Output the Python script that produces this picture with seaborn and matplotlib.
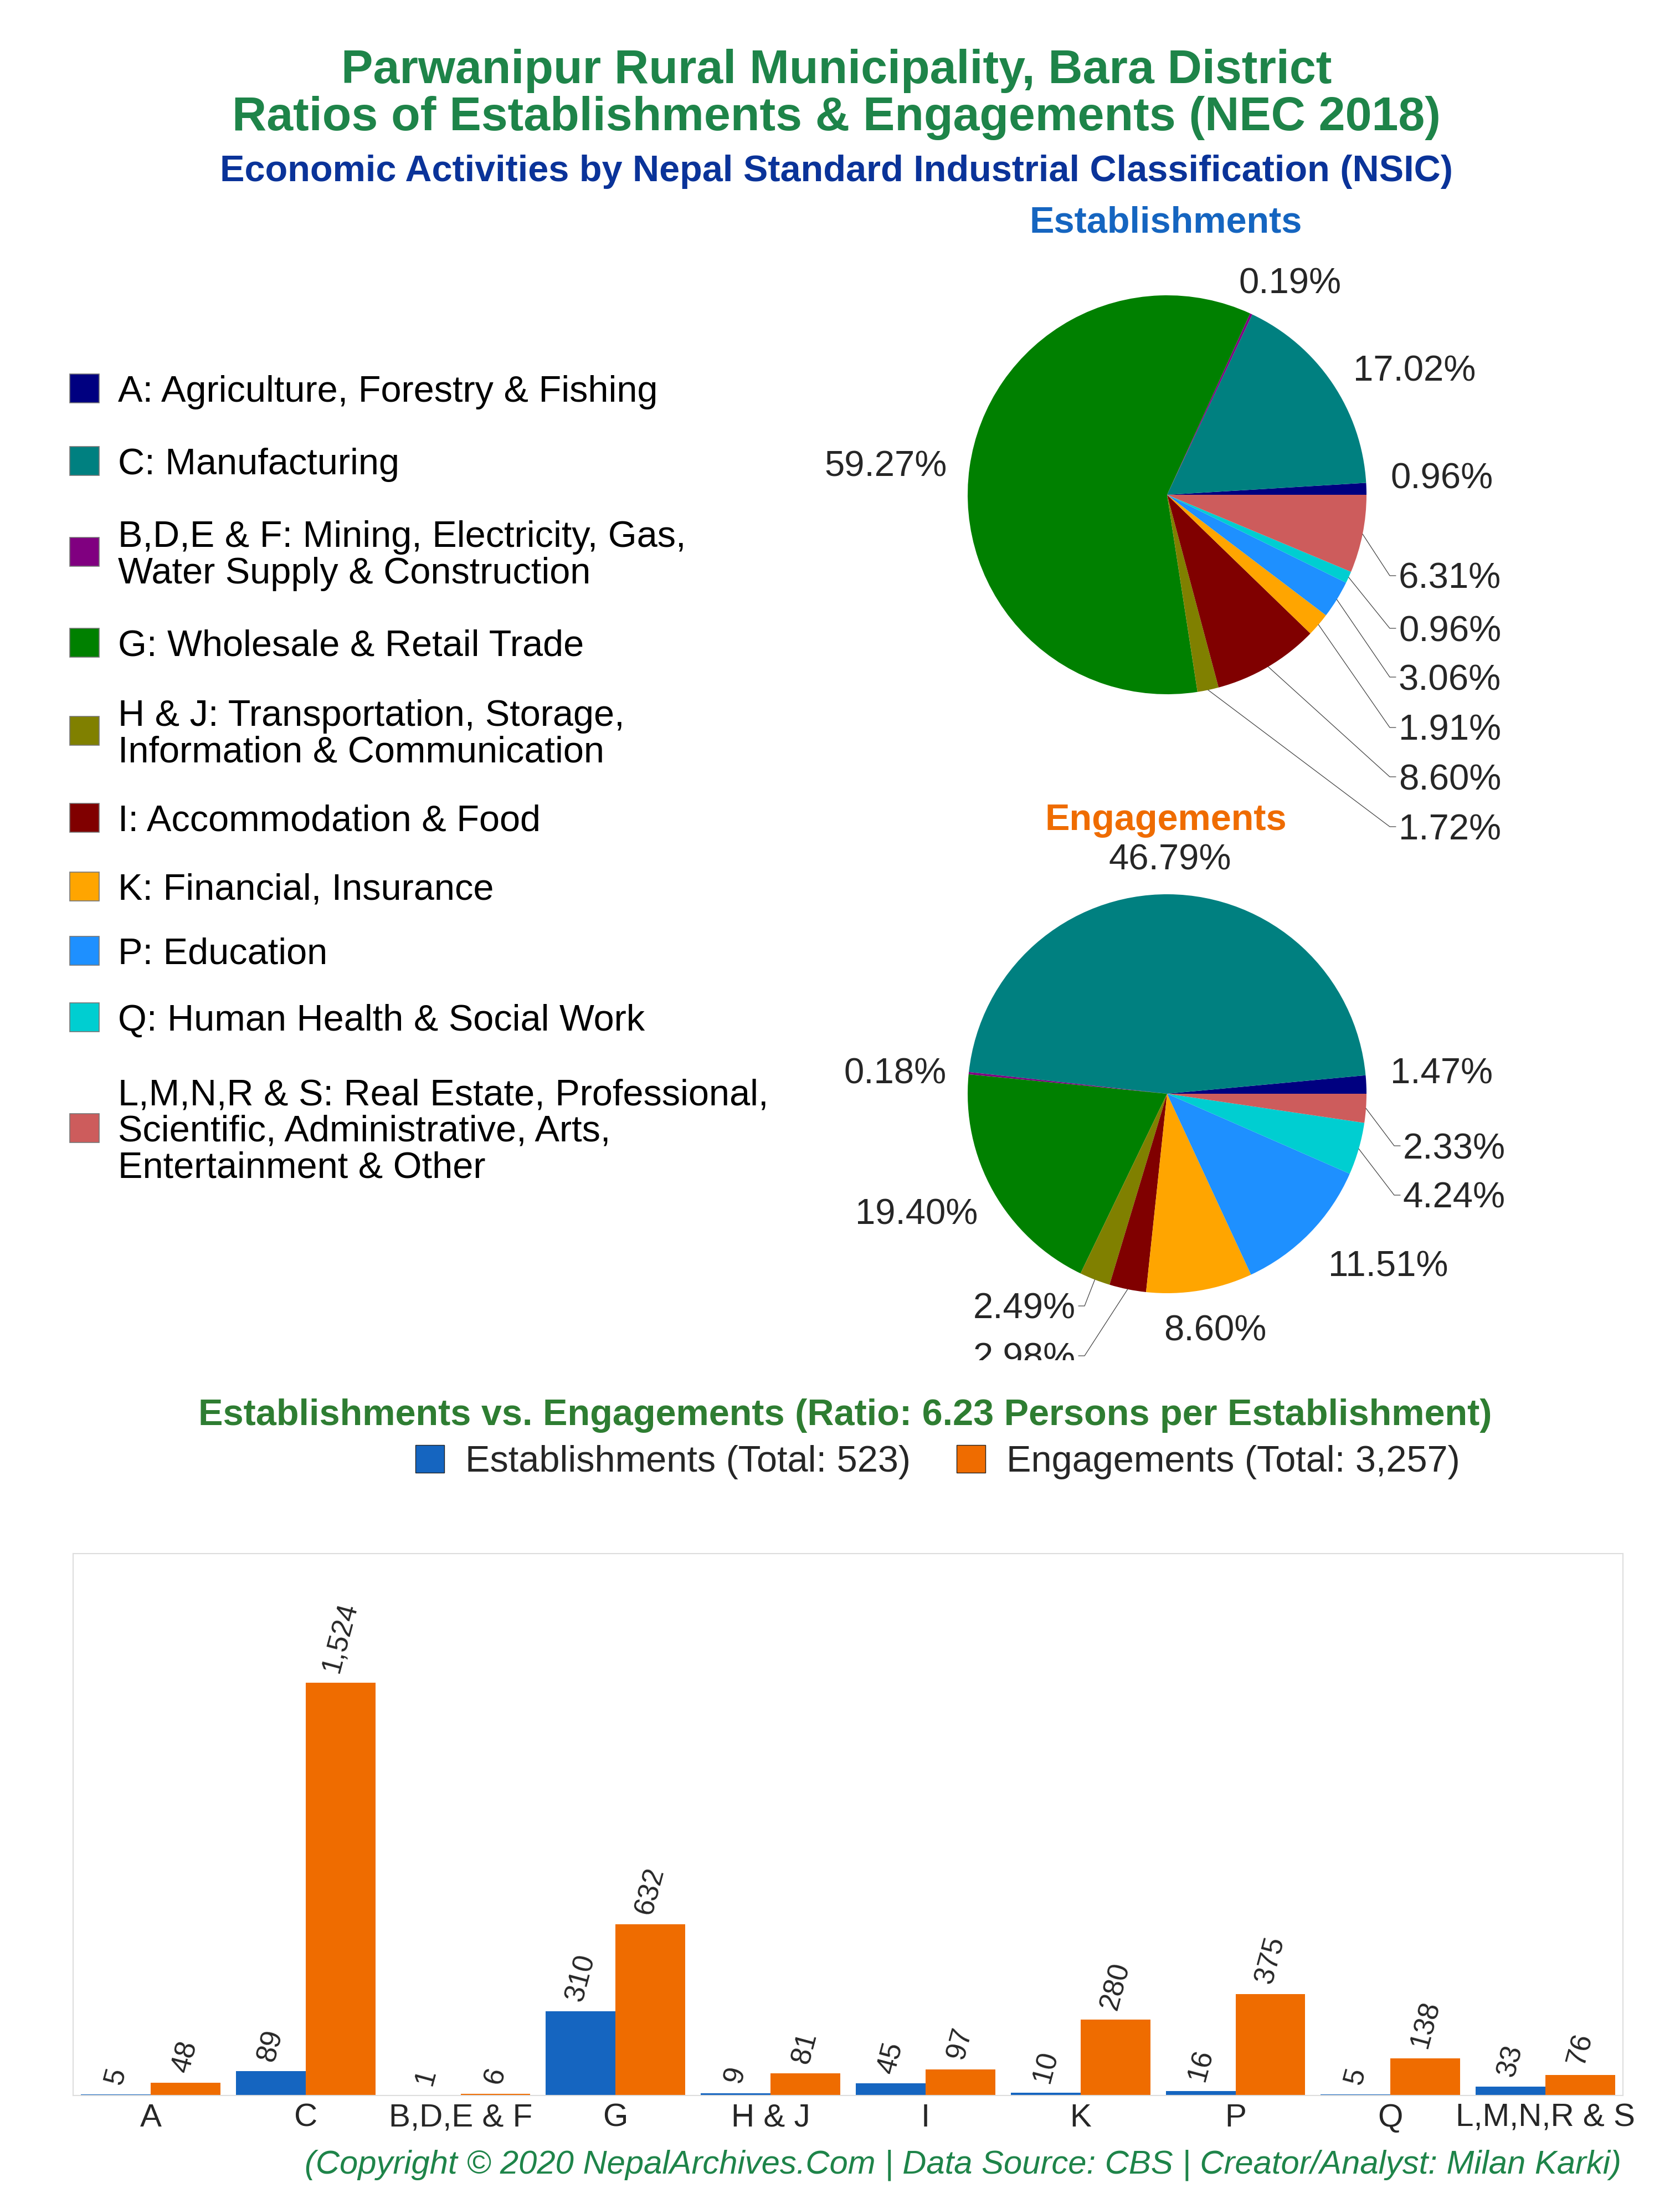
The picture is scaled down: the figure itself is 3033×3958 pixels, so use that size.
import matplotlib.pyplot as plt
import numpy as np
import pandas as pd
import seaborn as sns
from matplotlib.patches import Patch, Rectangle

# Data (NEC 2018, Parwanipur Rural Municipality)
categories = ["A", "C", "B,D,E & F", "G", "H & J", "I", "K", "P", "Q", "L,M,N,R & S"]
establishments = [5, 89, 1, 310, 9, 45, 10, 16, 5, 33]
engagements = [48, 1524, 6, 632, 81, 97, 280, 375, 138, 76]
legend_labels = [
    "A: Agriculture, Forestry & Fishing",
    "C: Manufacturing",
    "B,D,E & F: Mining, Electricity, Gas,\nWater Supply & Construction",
    "G: Wholesale & Retail Trade",
    "H & J: Transportation, Storage,\nInformation & Communication",
    "I: Accommodation & Food",
    "K: Financial, Insurance",
    "P: Education",
    "Q: Human Health & Social Work",
    "L,M,N,R & S: Real Estate, Professional,\nScientific, Administrative, Arts,\nEntertainment & Other",
]
slice_colors = ["#000080", "#008080", "#800080", "#008000", "#808000",
                "#800000", "#FFA500", "#1E90FF", "#00CED1", "#CD5C5C"]
est_color = "#1565C0"
eng_color = "#EF6C00"

W, H = 3033, 3958
R = 360  # pie radius in pixels

sns.set_style("white")
plt.rcParams["font.family"] = ["Liberation Sans", "DejaVu Sans"]

fig = plt.figure(figsize=(W / 100, H / 100), dpi=100)


def fx(x):
    return x / W


def fy(y):
    return 1 - y / H


def put(x, y, s, size, color="black", weight="normal", ha="center", style="normal"):
    fig.text(fx(x), fy(y), s, fontsize=size, color=color, fontweight=weight,
             ha=ha, va="baseline", fontstyle=style)


# titles
put(1510, 150, "Parwanipur Rural Municipality, Bara District", 62, "#1E8449", "bold")
put(1510, 235, "Ratios of Establishments & Engagements (NEC 2018)", 62, "#1E8449", "bold")
put(1510, 327, "Economic Activities by Nepal Standard Industrial Classification (NSIC)", 48, "#0A3399", "bold")
put(2105, 419, "Establishments", 48, est_color, "bold")
put(2105, 1498, "Engagements", 48, eng_color, "bold")

# left legend for the pies
marker_centers = [701, 832, 996, 1160, 1319, 1476, 1600, 1716, 1836, 2036]
for lab, col, mc in zip(legend_labels, slice_colors, marker_centers):
    fig.add_artist(Rectangle((fx(126), fy(mc + 26)), 53 / W, 52 / H, transform=fig.transFigure,
                             facecolor=col, edgecolor="#777777", linewidth=1.2))
    lines = lab.split("\n")
    for k, line in enumerate(lines):
        cap_c = mc + (k - (len(lines) - 1) / 2) * 66
        put(213, cap_c + 24, line, 48, ha="left")

# label layout: (x px, baseline px, ha, leader)
est_layout = [
    (2603, 882, "center", False), (2554, 687, "center", False), (2329, 530, "center", False),
    (1599, 859, "center", False), (2525, 1515, "left", True), (2525, 1425, "left", True),
    (2525, 1336, "left", True), (2525, 1245, "left", True), (2525, 1157, "left", True),
    (2525, 1062, "left", True),
]
eng_layout = [
    (2603, 1955, "center", False), (2112, 1570, "center", False), (1616, 1955, "center", False),
    (1655, 2210, "center", False), (1942, 2380, "right", True), (1942, 2470, "right", True),
    (2194, 2419, "center", False), (2506, 2304, "center", False), (2533, 2180, "left", True),
    (2533, 2091, "left", True),
]


def draw_pie(values, cx, cy, box, layout):
    x0, y0, x1, y1 = box
    ax = fig.add_axes([fx(x0), fy(y1), (x1 - x0) / W, (y1 - y0) / H])
    wedges, _ = ax.pie(values, colors=slice_colors, startangle=0, counterclock=True,
                       radius=1, wedgeprops=dict(linewidth=0))
    ax.set_aspect("auto")
    ax.set_xlim((x0 - cx) / R, (x1 - cx) / R)
    ax.set_ylim((cy - y1) / R, (cy - y0) / R)
    ax.axis("off")
    total = sum(values)
    for i, (lx, ly, ha, leader) in enumerate(layout):
        tx, ty = (lx - cx) / R, (cy - ly) / R
        ax.text(tx, ty, f"{values[i] / total * 100:.2f}%", fontsize=47, ha=ha,
                va="baseline", clip_on=True)
        if leader:
            w = wedges[i]
            ang = np.deg2rad((w.theta1 + w.theta2) / 2)
            yc = (cy - (ly - 23)) / R
            side = 1 if ha == "left" else -1
            ax.plot([np.cos(ang), tx - side * 16 / R, tx - side * 5 / R],
                    [np.sin(ang), yc, yc], color="#444444", lw=0.9, clip_on=False)
    return ax


draw_pie(establishments, 2107, 893, (1450, 430, 3033, 1545), est_layout)
draw_pie(engagements, 2107, 1974, (1450, 1510, 3033, 2455), eng_layout)

# bar chart
tot_est = sum(establishments)
tot_eng = sum(engagements)
est_label = f"Establishments (Total: {tot_est:,})"
eng_label = f"Engagements (Total: {tot_eng:,})"
put(1526, 2572, f"Establishments vs. Engagements (Ratio: {tot_eng / tot_est:.2f} Persons per Establishment)",
    48, "#2E7D32", "bold")

df_bar = pd.DataFrame({
    "category": categories * 2,
    "series": [est_label] * len(categories) + [eng_label] * len(categories),
    "value": establishments + engagements,
})

axb = fig.add_axes([fx(132), fy(3782), (2930 - 132) / W, (3782 - 2804) / H])
sns.barplot(data=df_bar, x="category", y="value", hue="series", order=categories,
            palette=[est_color, eng_color], width=0.9, saturation=1, linewidth=0,
            ax=axb, legend=False)
axb.set_ylim(0, 2000)
axb.set_xlim(-0.5, len(categories) - 0.5)
for cont in axb.containers:
    axb.bar_label(cont, labels=[f"{int(v):,}" for v in cont.datavalues], padding=9,
                  rotation=75, fontsize=37)
axb.set_xlabel("")
axb.set_ylabel("")
axb.set_yticks([])
axb.tick_params(axis="x", length=0, pad=10, labelsize=42)
for s in axb.spines.values():
    s.set_color("#DDDDDD")
    s.set_linewidth(1.5)

handles = [Patch(facecolor=est_color, edgecolor="#222222", linewidth=1),
           Patch(facecolor=eng_color, edgecolor="#222222", linewidth=1)]
fig.legend(handles, [est_label, eng_label], loc="center left",
           bbox_to_anchor=(fx(750), fy(2639)), ncol=2, frameon=False, fontsize=48,
           handlelength=0.78, handleheight=0.78, handletextpad=0.57, columnspacing=1.25,
           borderpad=0, borderaxespad=0)

put(2927, 3922, "(Copyright © 2020 NepalArchives.Com | Data Source: CBS | Creator/Analyst: Milan Karki)",
    43, "#1E8449", ha="right", style="italic")

fig.savefig("out.png", dpi=100)
